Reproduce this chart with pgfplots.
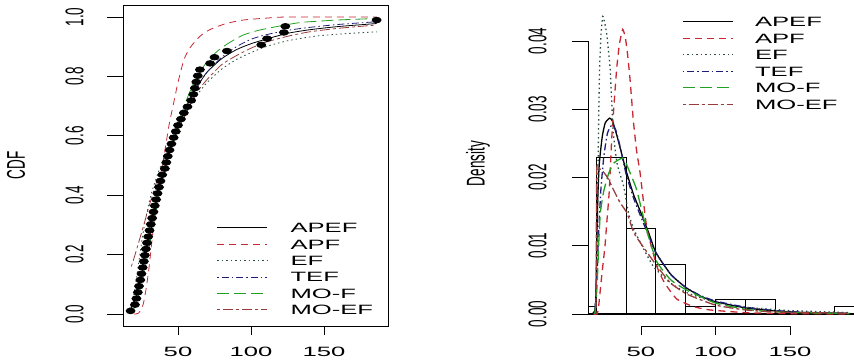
\documentclass[border=0pt]{standalone}
\usepackage{fontspec}
\setmainfont{Liberation Sans}
\newfontfamily\hfont[FakeStretch=1.9]{Liberation Sans}
\newfontfamily\vfont[FakeStretch=0.5263]{Liberation Sans}
\usepackage{pgfplots}
\pgfplotsset{compat=1.18}
\newcommand{\hf}{\hfont\fontsize{13.5}{16}\selectfont}
\newcommand{\vf}{\vfont\fontsize{25.65}{30}\selectfont}
\newcommand{\rl}[1]{\rotatebox{90}{\vf #1}}
\definecolor{cAPF}{RGB}{200,40,50}
\definecolor{cEF}{RGB}{40,80,60}
\definecolor{cTEF}{RGB}{30,30,120}
\definecolor{cMOF}{RGB}{34,160,34}
\definecolor{cMOEF}{RGB}{150,60,60}
\tikzset{
 apef/.style={black, solid},
 apf/.style={cAPF, dash pattern=on 7pt off 5pt},
 ef/.style={cEF, dash pattern=on 1.5pt off 3pt},
 tef/.style={cTEF, dash pattern=on 1.5pt off 3pt on 7pt off 3pt},
 mof/.style={cMOF, dash pattern=on 12pt off 5pt},
 moef/.style={cMOEF, dash pattern=on 3pt off 3pt on 10pt off 3pt},
}
\begin{document}
\begin{tikzpicture}
\useasboundingbox (0,0) rectangle (854pt,359pt);
% ---------------- Left: CDF ----------------
\begin{axis}[
 scale only axis, width=265pt, height=321pt, at={(123pt,33pt)}, anchor=south west,
 xmin=12.33, xmax=193.8, ymin=-0.0404, ymax=1.0404,
 axis line style={line width=0.8pt},
 scaled ticks=false,
 tick align=outside, xtick pos=left, ytick pos=left,
 xtick={50,100,150}, xticklabels={50,100,150},
 ytick={0,0.2,0.4,0.6,0.8,1}, yticklabels={\rl{0.0},\rl{0.2},\rl{0.4},\rl{0.6},\rl{0.8},\rl{1.0}},
 xtick style={black, line width=0.8pt, /pgfplots/major tick length=8.5pt},
 ytick style={black, line width=0.8pt, /pgfplots/major tick length=15.5pt},
 xticklabel style={font=\hf, anchor=north, inner sep=0pt, text height=9.7pt, text depth=0pt},
 yticklabel style={anchor=east, inner sep=0pt, xshift=-34.8pt},
 xticklabel shift=16pt,
 ylabel={CDF}, ylabel style={font=\vf, at={(axis description cs:-0.404,0.5)}, anchor=center},
 legend entries={APEF,APF,EF,TEF,MO-F,MO-EF},
 legend cell align=left,
 legend style={draw=none, fill=none, inner sep=0pt, outer sep=0pt,
   at={(0.3536,0.3218)}, anchor=north west, row sep=6.4pt, column sep=23pt, font=\hf,
   nodes={inner sep=0pt, text height=10pt, text depth=0pt}},
 legend image code/.code={\draw[#1] (0pt,0pt) -- (50pt,0pt);},
 every axis plot/.append style={line width=0.8pt},
]
\addplot[apef, smooth, tension=0.4] coordinates {(17,0.01)(20,0.04)(22,0.07)(25,0.13)(28,0.2)(31,0.27)(34,0.34)(37,0.41)(40,0.47)(43,0.52)(46,0.57)(50,0.63)(55,0.69)(60,0.74)(65,0.78)(70,0.815)(80,0.86)(90,0.89)(100,0.91)(110,0.925)(125,0.945)(140,0.957)(160,0.968)(186,0.978)};
\addplot[apf, smooth, tension=0.4] coordinates {(20,0)(23,0.003)(26,0.03)(28,0.08)(30,0.15)(32,0.24)(34,0.33)(36,0.41)(38,0.47)(40,0.52)(42,0.58)(44,0.64)(47,0.71)(50,0.78)(54,0.855)(58,0.895)(65,0.935)(72,0.958)(83,0.978)(95,0.99)(110,0.996)(125,1.0)(186,1.0)};
\addplot[ef, smooth, tension=0.4] coordinates {(17,0.02)(20,0.07)(23,0.17)(26,0.27)(29,0.35)(32,0.41)(36,0.47)(40,0.52)(45,0.58)(50,0.63)(55,0.675)(60,0.715)(65,0.75)(70,0.78)(80,0.825)(90,0.857)(100,0.88)(110,0.9)(125,0.92)(145,0.936)(165,0.944)(186,0.95)};
\addplot[tef, smooth, tension=0.4] coordinates {(17,0.01)(20,0.05)(25,0.15)(30,0.27)(35,0.38)(40,0.48)(45,0.56)(50,0.63)(55,0.69)(60,0.74)(65,0.78)(70,0.815)(80,0.865)(90,0.9)(100,0.925)(110,0.94)(125,0.955)(140,0.965)(160,0.975)(186,0.984)};
\addplot[mof, smooth, tension=0.4] coordinates {(17,0.0)(20,0.02)(25,0.1)(30,0.22)(35,0.35)(40,0.47)(45,0.56)(50,0.64)(55,0.71)(60,0.77)(65,0.815)(70,0.85)(75,0.876)(80,0.897)(88,0.922)(95,0.94)(105,0.955)(120,0.97)(135,0.982)(160,0.99)(186,0.995)};
\addplot[moef, smooth, tension=0.4] coordinates {(18,0.16)(20,0.19)(23,0.24)(26,0.29)(30,0.36)(35,0.44)(40,0.51)(45,0.57)(50,0.62)(55,0.67)(60,0.72)(65,0.76)(70,0.79)(80,0.84)(90,0.87)(100,0.895)(110,0.915)(125,0.935)(140,0.95)(160,0.962)(186,0.973)};
\addplot[only marks, mark=*, mark size=2.8pt, mark options={fill=black, draw=black, xscale=1.6, solid}] coordinates {
(17.5,0.0104)(20.5,0.0313)(21.5,0.0521)(22.5,0.0729)(23.3,0.0938)(24.2,0.1146)(25.0,0.1354)(25.8,0.1563)
(26.6,0.1771)(27.3,0.1979)(28.0,0.2188)(28.8,0.2396)(29.6,0.2604)(30.5,0.2813)(31.4,0.3021)(32.3,0.3229)
(33.2,0.3438)(34.1,0.3646)(35.0,0.3854)(36.0,0.4063)(37.0,0.4271)(38.0,0.4479)(39.2,0.4688)(41.0,0.4896)
(42.0,0.5104)(43.0,0.5313)(44.2,0.5521)(45.5,0.5729)(47.0,0.5938)(48.5,0.6146)(50.0,0.6354)(52.0,0.6563)
(54.0,0.6771)(56.5,0.6979)(59.0,0.7188)(60.5,0.7396)(61.5,0.7604)(62.5,0.7813)(63.5,0.8021)(65.0,0.8229)
(72.0,0.8438)(75.0,0.8646)(83.5,0.8854)(107,0.9063)(111,0.9271)(122.5,0.9479)(123.5,0.9688)(186,0.9896)};
\end{axis}
% ---------------- Right: density ----------------
\begin{axis}[
 scale only axis, width=266pt, height=325pt, at={(588pt,33pt)}, anchor=south west,
 xmin=14.43, xmax=193, ymin=-0.00176, ymax=0.04586,
 axis line style={draw=none},
 clip mode=individual,
 scaled ticks=false,
 tick align=outside, xtick pos=left, ytick pos=left,
 xtick={50,100,150}, xticklabels={50,100,150},
 ytick={0,0.01,0.02,0.03,0.04}, yticklabels={\rl{0.00},\rl{0.01},\rl{0.02},\rl{0.03},\rl{0.04}},
 xtick style={black, line width=0.8pt, /pgfplots/major tick length=8.5pt},
 ytick style={black, line width=0.8pt, /pgfplots/major tick length=16pt},
 xticklabel style={font=\hf, anchor=north, inner sep=0pt, text height=9.7pt, text depth=0pt},
 yticklabel style={anchor=east, inner sep=0pt, xshift=-36.8pt},
 xticklabel shift=16pt,
 ylabel={Density}, ylabel style={font=\vf, at={(axis description cs:-0.4135,0.5)}, anchor=center},
 legend entries={APEF,APF,EF,TEF,MO-F,MO-EF},
 legend cell align=left,
 legend style={draw=none, fill=none, inner sep=0pt, outer sep=0pt,
   at={(0.3534,0.9517)}, anchor=north west, row sep=6.5pt, column sep=21.7pt, font=\hf,
   nodes={inner sep=0pt, text height=10pt, text depth=0pt}},
 legend image code/.code={\draw[#1] (0pt,0pt) -- (50pt,0pt);},
 every axis plot/.append style={line width=1.3pt},
]
\addplot[ybar interval, draw=black, fill=none, line width=1.1pt, forget plot] coordinates {(0,0.00104)(20,0.02292)(40,0.0125)(60,0.00729)(80,0.00104)(100,0.00208)(120,0.00208)(140,0)(160,0)(180,0.00104)(200,0)};
\addplot[apef, smooth, tension=0.3] coordinates {(17,0)(19.5,0.001)(20.3,0.010)(21,0.017)(22,0.022)(24,0.026)(26,0.028)(29,0.0287)(31,0.0282)(34,0.026)(37,0.0235)(40,0.021)(45,0.0175)(50,0.0148)(55,0.012)(60,0.009)(70,0.0058)(80,0.0039)(90,0.0026)(100,0.0018)(120,0.0009)(140,0.00045)(160,0.0002)(190,0.00008)};
\addplot[apf, smooth, tension=0.3] coordinates {(18,0)(20.5,0)(21.5,0.001)(23.6,0.0055)(25.8,0.0099)(27,0.0133)(28.7,0.018)(30.3,0.0255)(32,0.031)(33.7,0.036)(35.5,0.0395)(37.7,0.0417)(39.5,0.0405)(41,0.038)(42.6,0.0345)(44.8,0.0285)(47,0.024)(49.5,0.0205)(54,0.0125)(60.8,0.0069)(66,0.0045)(74,0.0022)(85,0.0011)(96,0.0006)(120,0.0002)(150,0.00005)(190,0)};
\addplot[ef, smooth, tension=0.3] coordinates {(19,0)(20,0.004)(20.8,0.015)(21.5,0.027)(22.2,0.036)(23.2,0.041)(24.3,0.0436)(25.5,0.0428)(27,0.041)(29.2,0.0362)(30.3,0.0314)(31.4,0.0265)(34,0.022)(38.4,0.0187)(41.6,0.0148)(45,0.0125)(49.5,0.0105)(58.5,0.0069)(70,0.0045)(81,0.0031)(100,0.0017)(120,0.001)(150,0.0005)(190,0.0002)};
\addplot[tef, smooth, tension=0.3] coordinates {(19,0)(20.5,0.006)(21.6,0.012)(23,0.018)(25,0.023)(27.5,0.0265)(30.5,0.0277)(33,0.027)(36,0.0245)(40,0.0205)(45,0.017)(50,0.0142)(55,0.0115)(60,0.009)(70,0.0058)(80,0.0039)(90,0.0027)(100,0.0019)(120,0.001)(140,0.0005)(160,0.00025)(190,0.0001)};
\addplot[mof, smooth, tension=0.3] coordinates {(19,0)(20.5,0.004)(21.6,0.0102)(22.7,0.0148)(25,0.018)(28.3,0.0206)(31.7,0.0221)(35,0.0226)(38.4,0.0228)(42.8,0.0206)(47.1,0.0182)(53.8,0.0123)(60.5,0.0077)(70,0.005)(80.7,0.0035)(100,0.0016)(120,0.0007)(140,0.0003)(190,0.00005)};
\addplot[moef, smooth, tension=0.3] coordinates {(19.8,0)(20.3,0.021)(22,0.0213)(24,0.021)(27.2,0.0201)(32,0.018)(36,0.0163)(40.6,0.0148)(45,0.012)(50,0.0103)(60.8,0.007)(70,0.0045)(80.9,0.0029)(100,0.0013)(120,0.0006)(140,0.0003)(190,0.0001)};
\draw[line width=0.8pt] (axis cs:50,-0.00176) -- (axis cs:150,-0.00176);
\draw[line width=0.8pt] (axis cs:14.43,0) -- (axis cs:14.43,0.04);
\end{axis}
\end{tikzpicture}
\end{document}
